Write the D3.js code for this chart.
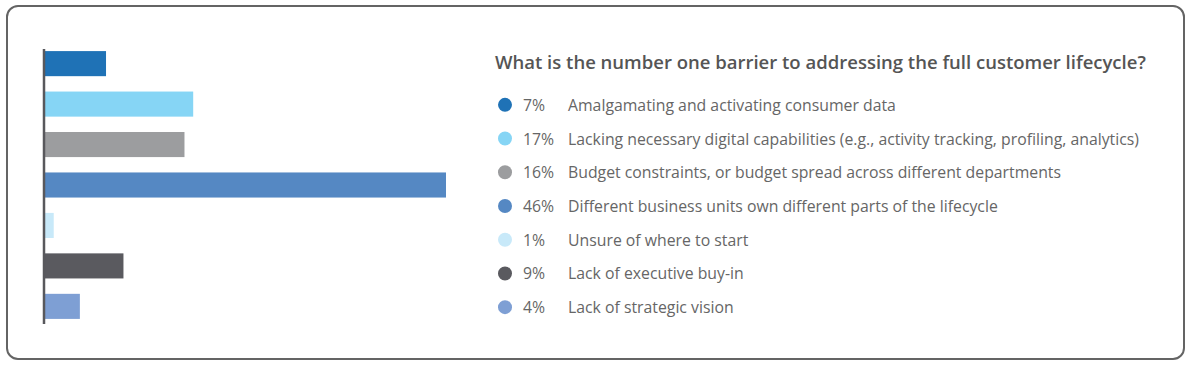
<!DOCTYPE html>
<html><head><meta charset="utf-8">
<script src="https://cdn.jsdelivr.net/npm/d3@7"></script>
<style>
html,body{margin:0;padding:0;background:#fff;}
svg{display:block;font-family:"Open Sans",sans-serif;}
</style></head>
<body><svg id="chart" width="1192" height="368"></svg>
<script>
const title = "What is the number one barrier to addressing the full customer lifecycle?";
const categories = [
  "Amalgamating and activating consumer data",
  "Lacking necessary digital capabilities (e.g., activity tracking, profiling, analytics)",
  "Budget constraints, or budget spread across different departments",
  "Different business units own different parts of the lifecycle",
  "Unsure of where to start",
  "Lack of executive buy-in",
  "Lack of strategic vision"
];
const values = [7, 17, 16, 46, 1, 9, 4];
const colors = ["#1f72b6", "#86d5f5", "#9c9d9f", "#5588c3", "#c8e9f9", "#5a5a5f", "#7e9fd4"];

const svg = d3.select("#chart");

// frame
svg.append("rect").attr("x", 7).attr("y", 6).attr("width", 1177).attr("height", 353)
  .attr("rx", 11).attr("fill", "#fff").attr("stroke", "#646464").attr("stroke-width", 2);

const x = d3.scaleLinear().domain([0, 46]).range([45, 446]);
const y = d3.scaleBand().domain(d3.range(categories.length)).range([43, 327]).paddingInner(0.38).paddingOuter(0.2);

svg.append("g").selectAll("rect").data(values).join("rect")
  .attr("x", x(0))
  .attr("y", (d, i) => y(i))
  .attr("width", d => x(d) - x(0))
  .attr("height", y.bandwidth())
  .attr("fill", (d, i) => colors[i]);

// axis line
svg.append("line").attr("x1", 44).attr("x2", 44).attr("y1", 49).attr("y2", 324)
  .attr("stroke", "#58585c").attr("stroke-width", 2.5);

// title
svg.append("text").attr("x", 495).attr("y", 69).text(title)
  .attr("font-size", 18.5).attr("font-weight", 600).attr("fill", "#555");

const ly = d3.scaleBand().domain(d3.range(categories.length)).range([88, 324]);
const lg = svg.append("g").selectAll("g").data(categories).join("g")
  .attr("transform", (d, i) => `translate(0,${ly(i) + ly.bandwidth() / 2})`);
lg.append("circle").attr("cx", 505).attr("cy", 0).attr("r", 7).attr("fill", (d, i) => colors[i]);
lg.append("text").attr("x", 523).attr("y", 6).text((d, i) => values[i] + "%")
  .attr("font-size", 15.8).attr("fill", "#666");
lg.append("text").attr("x", 568).attr("y", 6).text(d => d)
  .attr("font-size", 15.8).attr("fill", "#666");
</script></body></html>
